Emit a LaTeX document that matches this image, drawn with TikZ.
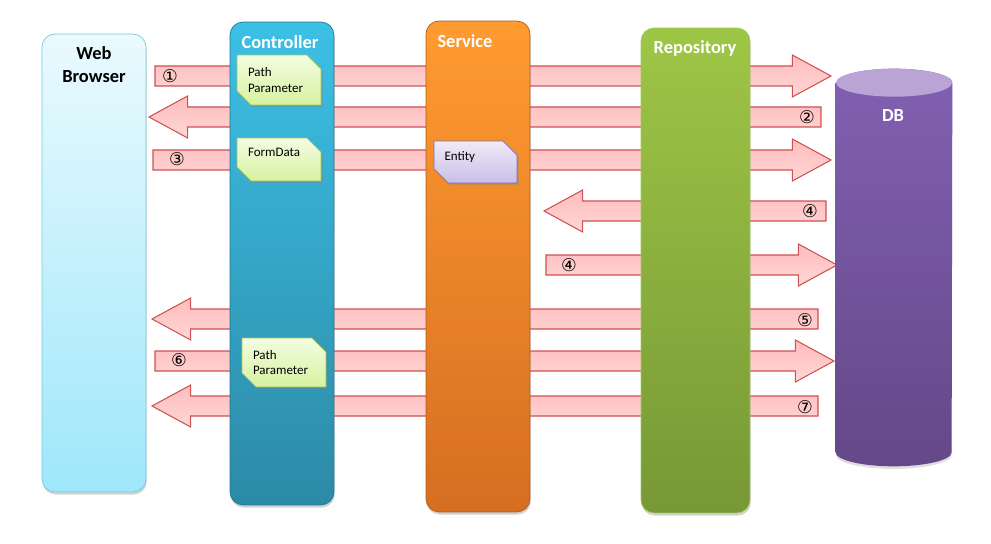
\documentclass[tikz,border=0pt]{standalone}
\usepackage{fontspec}
\setmainfont{Carlito}
\newfontfamily\circfont{DejaVu Sans}
\usetikzlibrary{shapes.misc, shadows, calc}

\definecolor{wbTop}{RGB}{234,250,254}
\definecolor{wbBot}{RGB}{158,231,250}
\definecolor{wbLine}{RGB}{120,200,225}
\definecolor{ctrlTop}{RGB}{60,192,230}
\definecolor{ctrlBot}{RGB}{44,138,166}
\definecolor{ctrlLine}{RGB}{38,118,145}
\definecolor{svcTop}{RGB}{255,155,48}
\definecolor{svcBot}{RGB}{214,110,34}
\definecolor{svcLine}{RGB}{175,92,28}
\definecolor{repoTop}{RGB}{158,198,70}
\definecolor{repoBot}{RGB}{119,152,54}
\definecolor{repoLine}{RGB}{160,200,90}
\definecolor{dbTop}{RGB}{130,96,178}
\definecolor{dbBot}{RGB}{100,72,136}
\definecolor{dbCap}{RGB}{186,164,214}
\definecolor{noteTop}{RGB}{243,253,226}
\definecolor{noteBot}{RGB}{214,242,160}
\definecolor{noteLine}{RGB}{165,198,90}
\definecolor{entTop}{RGB}{240,234,248}
\definecolor{entBot}{RGB}{202,190,230}
\definecolor{entLine}{RGB}{125,110,180}
\definecolor{arrTop}{RGB}{255,188,188}
\definecolor{arrBot}{RGB}{255,214,214}
\definecolor{arrLine}{RGB}{205,82,82}

% fat arrow from tail #1 to tip #2
\newcommand{\fatarrow}[2]{%
  \path[bigarrow] let \p1=(#1), \p2=(#2), \n1={sign(\x2-\x1)} in
    ($(#1)+(0,-10)$) -- ($(#2)+({-22*(\n1)},-10)$) -- ($(#2)+({-22*(\n1)},-21)$)
    -- (#2) -- ($(#2)+({-22*(\n1)},21)$) -- ($(#2)+({-22*(\n1)},10)$)
    -- ($(#1)+(0,10)$) -- cycle;}

\begin{document}
\begin{tikzpicture}[
  x=0.02cm, y=-0.02cm,
  column/.style={rounded corners=0.26cm, inner sep=0pt, minimum width=2.08cm, drop shadow={shadow xshift=0.4pt, shadow yshift=-1.5pt, opacity=0.35}},
  title/.style={font=\bfseries\fontsize{10.5}{13}\selectfont, text=white, align=center, inner sep=1pt},
  note/.style={chamfered rectangle, chamfered rectangle corners={north east, south west}, chamfered rectangle sep=0.14cm, draw=noteLine, top color=noteTop, bottom color=noteBot, minimum width=1.68cm, text width=1.24cm, align=left, inner sep=0pt, font=\fontsize{7.4}{8.6}\selectfont, drop shadow={shadow xshift=1pt, shadow yshift=-1.2pt, opacity=0.3}},
  bigarrow/.style={draw=arrLine, top color=arrTop, bottom color=arrBot, line width=0.6pt, line join=miter},
  num/.style={font=\circfont\fontsize{10}{10}\selectfont, inner sep=0pt}
]
\useasboundingbox (0,0) rectangle (991,544);

% --- arrow ends ---
\coordinate (a1s) at (155,76);  \coordinate (a1e) at (831,76);
\coordinate (a2s) at (821,117); \coordinate (a2e) at (149,117);
\coordinate (a3s) at (153,160); \coordinate (a3e) at (831,160);
\coordinate (a4s) at (826,211); \coordinate (a4e) at (544,211);
\coordinate (b4s) at (546,265); \coordinate (b4e) at (837,265);
\coordinate (a5s) at (818,319); \coordinate (a5e) at (152,319);
\coordinate (a6s) at (155,361); \coordinate (a6e) at (834,361);
\coordinate (a7s) at (818,406); \coordinate (a7e) at (152,406);

% --- request / response arrows ---
\fatarrow{a1s}{a1e}
\fatarrow{a2s}{a2e}
\fatarrow{a3s}{a3e}
\fatarrow{a4s}{a4e}
\fatarrow{b4s}{b4e}
\fatarrow{a5s}{a5e}
\fatarrow{a6s}{a6e}
\fatarrow{a7s}{a7e}

\node[num] (n1) at (170,76) {①};
\node[num] (n2) at (807,117) {②};
\node[num] (n3) at (177,159) {③};
\node[num] (n4) at (810,211) {④};
\node[num] (m4) at (569,265) {④};
\node[num] (n5) at (805,320) {⑤};
\node[num] (n6) at (179,360) {⑥};
\node[num] (n7) at (805,407) {⑦};

% --- columns ---
\node[column, top color=wbTop, bottom color=wbBot, draw=wbLine, minimum height=9.16cm] (browser) at (94,263) {};
\node[column, top color=ctrlTop, bottom color=ctrlBot, draw=ctrlLine, minimum height=9.66cm] (ctrl) at (282,263.5) {};
\node[column, top color=svcTop, bottom color=svcBot, draw=svcLine, minimum height=9.82cm] (svc) at (478,266.5) {};
\node[column, top color=repoTop, bottom color=repoBot, draw=repoLine, minimum width=2.18cm, minimum height=9.7cm] (repo) at (695.5,270.5) {};

% --- DB cylinder ---
\node[inner sep=0pt, minimum width=2.32cm, minimum height=7.94cm] (db) at (894,267.5) {};
\shade[top color=dbTop, bottom color=dbBot, drop shadow={shadow xshift=0pt, shadow yshift=-1.5pt, opacity=0.25}]
  ([yshift=-0.28cm]db.north west) -- ([yshift=0.28cm]db.south west)
  arc[start angle=180, end angle=360, x radius=1.16cm, y radius=0.28cm]
  -- ([yshift=-0.28cm]db.north east)
  arc[start angle=0, end angle=180, x radius=1.16cm, y radius=0.28cm] -- cycle;
\fill[dbCap] ([yshift=-0.28cm]db.north) ellipse[x radius=1.16cm, y radius=0.28cm];

% --- titles ---
\node[title, text=black] (browserT) at (94,64.5) {Web\\Browser};
\node[title] (ctrlT) at (280,42) {Controller};
\node[title] (svcT) at (465,41) {Service};
\node[title] (repoT) at (695,48) {Repository};
\node[title] (dbT) at (893,116) {DB};

% --- notes ---
\node[note, minimum height=1cm] (path1) at (279,80) {Path\\Parameter};
\node[note, minimum height=0.86cm, text depth=0.29cm] (form) at (279,159.5) {FormData};
\node[note, minimum height=0.98cm] (path2) at (284,362.5) {Path\\Parameter};
\node[note, draw=entLine, top color=entTop, bottom color=entBot, minimum width=1.66cm, minimum height=0.84cm, text depth=0.25cm] (entity) at (475.5,162) {Entity};

\end{tikzpicture}
\end{document}
